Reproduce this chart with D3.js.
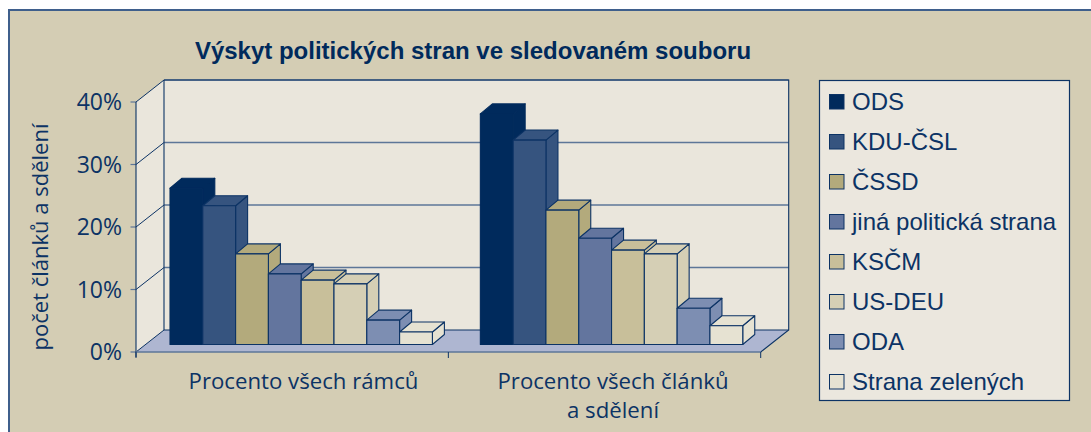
<!DOCTYPE html>
<html><head><meta charset="utf-8">
<script src="https://cdn.jsdelivr.net/npm/d3@7/dist/d3.min.js"></script>
<style>html,body{margin:0;padding:0;background:#fff}svg{display:block}</style>
</head><body><svg id="c" width="1091" height="432"></svg>
<script>
const title = "Výskyt politických stran ve sledovaném souboru";
const yLabel = "počet článků a sdělení";
const categories = [["Procento všech rámců"], ["Procento všech článků", "a sdělení"]];
const parties = ["ODS","KDU-ČSL","ČSSD","jiná politická strana","KSČM","US-DEU","ODA","Strana zelených"];
const partyColors = ["#002a5c","#36547f","#b3aa7c","#63759e","#c8bf9a","#d5cfb5","#7d8eb2","#e6e2d2"];
const valuesFrames = [25.0,22.2,14.5,11.3,10.3,9.7,3.9,2.0];
const valuesArticles = [36.9,32.7,21.5,17.0,15.1,14.5,5.8,3.0];
const seriesValues = [valuesFrames, valuesArticles];
const yTicks = [0,10,20,30,40];

const NAVY = "#0c3365", GRID = "#5d7698", HUM = "'Open Sans','Noto Sans',sans-serif", ARIAL = "'Liberation Sans',Arial,sans-serif";
const svg = d3.select("#c");

// panel
svg.append("rect").attr("x",9).attr("y",10).attr("width",1082).attr("height",422).attr("fill","#d4cdb4");
svg.append("path").attr("d","M9,432V10H1091").attr("fill","none").attr("stroke","#3f5f8c").attr("stroke-width",2);

// 3D projection settings
const depth = {x:28, y:-22};
const barDepth = {x:12, y:-10};
const x0 = d3.scaleBand().domain(d3.range(categories.length)).range([136,760.7]);
const y = d3.scaleLinear().domain([0,40]).range([352,102]);
const xEnd = 760.7;
const g = svg.append("g");

// floor
g.append("path").attr("d",`M136,${y(0)}L${136+depth.x},${y(0)+depth.y}H${xEnd+depth.x}L${xEnd},${y(0)}Z`).attr("fill","#aeb6d1");
// back wall and side wall
g.append("rect").attr("x",136+depth.x).attr("y",y(40)+depth.y).attr("width",xEnd-136).attr("height",y(0)-y(40)).attr("fill","#eae6dc");
g.append("path").attr("d",`M136,${y(0)}V${y(40)}L${136+depth.x},${y(40)+depth.y}V${y(0)+depth.y}Z`).attr("fill","#eae6dc");
// gridlines
yTicks.forEach(t=>{
  g.append("path").attr("d",`M136,${y(t)}L${136+depth.x},${y(t)+depth.y}`).attr("fill","none").attr("stroke",NAVY).attr("stroke-width",1);
  g.append("path").attr("d",`M${136+depth.x},${y(t)+depth.y}H${xEnd+depth.x}`).attr("fill","none").attr("stroke",t===0?NAVY:GRID).attr("stroke-width",t===0?1.2:1.4);
  g.append("path").attr("d",`M130.5,${y(t)}H136`).attr("stroke",GRID).attr("stroke-width",1.2);
  g.append("text").attr("x",122).attr("y",y(t)+8).attr("text-anchor","end").attr("font-family",HUM).attr("font-size",23).attr("fill",NAVY).text(t+"%");
});
// wall edges
g.append("path").attr("d",`M136,${y(0)+5}V${y(40)}M${136+depth.x},${y(40)+depth.y}V${y(0)+depth.y}M${136+depth.x},${y(40)+depth.y}H${xEnd+depth.x}V${y(0)+depth.y}L${xEnd},${y(0)}`).attr("fill","none").attr("stroke",NAVY).attr("stroke-width",1.1);
// front axis
g.append("path").attr("d",`M136,${y(0)}H${xEnd}`).attr("stroke",GRID).attr("stroke-width",1.6);
[0,1,2].forEach(i=>{
  const px = i<2 ? x0(i) : xEnd;
  g.append("path").attr("d",`M${px},${y(0)}V${y(0)+6}`).attr("stroke",NAVY).attr("stroke-width",1);
});

// bars
const yBar = v => 344.5 - (y(0)-y(v));
const barW = 32.8;
const barOffset = [34,32];
seriesValues.forEach((vals,gi)=>{
  const xb = d3.scaleBand().domain(d3.range(parties.length)).range([0,barW*parties.length]);
  vals.forEach((v,i)=>{
    const L = x0(gi)+barOffset[gi]+xb(i), W = xb.bandwidth(), T = yBar(v), B = yBar(0);
    const col = partyColors[i];
    const edge = i===0 ? col : NAVY;
    const b = g.append("g").attr("stroke",edge).attr("stroke-width",1.1).attr("stroke-linejoin","round");
    b.append("path").attr("d",`M${L+W},${B}L${L+W+barDepth.x},${B+barDepth.y}V${T+barDepth.y}L${L+W},${T}Z`).attr("fill",col);
    b.append("path").attr("d",`M${L},${T}L${L+barDepth.x},${T+barDepth.y}H${L+W+barDepth.x}L${L+W},${T}Z`).attr("fill",col);
    b.append("rect").attr("x",L).attr("y",T).attr("width",W).attr("height",B-T).attr("fill",col);
  });
});

// category labels
const labelCx = [303.5,613];
categories.forEach((lines,i)=>{
  lines.forEach((t,j)=>{
    g.append("text").attr("x",labelCx[i]).attr("y",389+j*29).attr("text-anchor","middle").attr("font-family",HUM).attr("font-size",22.2).attr("fill",NAVY).text(t);
  });
});

// y title
svg.append("text").attr("transform","translate(48,237) rotate(-90)").attr("text-anchor","middle").attr("font-family",HUM).attr("font-size",22).attr("fill",NAVY).text(yLabel);
// title
svg.append("text").attr("x",473).attr("y",59).attr("text-anchor","middle").attr("font-family",ARIAL).attr("font-weight","bold").attr("font-size",24).attr("fill","#002a5c").text(title);

// legend
svg.append("rect").attr("x",819.5).attr("y",80.5).attr("width",250).attr("height",320).attr("fill","#ebe7de").attr("stroke",NAVY).attr("stroke-width",1.2);
const ly = d3.scalePoint().domain(parties).range([101.5,381.5]);
parties.forEach((p,i)=>{
  svg.append("rect").attr("x",829.5).attr("y",ly(p)-7).attr("width",14.5).attr("height",14.5).attr("fill",partyColors[i]).attr("stroke",NAVY).attr("stroke-width",1);
  svg.append("text").attr("x",852).attr("y",ly(p)+8.5).attr("font-family",ARIAL).attr("font-size",24).attr("fill",NAVY).text(p);
});
</script></body></html>
